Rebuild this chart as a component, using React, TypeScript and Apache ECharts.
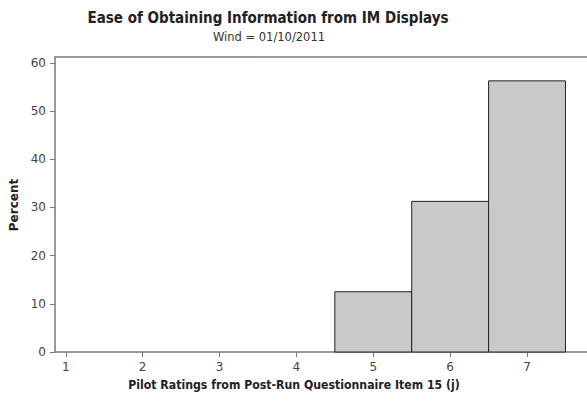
import React, { useEffect, useRef } from "react";
import * as echarts from "echarts";

const ratings = [1, 2, 3, 4, 5, 6, 7];
const percents = [0, 0, 0, 0, 12.5, 31.25, 56.25];
const yTicks = [0, 10, 20, 30, 40, 50, 60];
const titleText = "Ease of Obtaining Information from IM Displays";
const subtitleText = "Wind = 01/10/2011";
const xName = "Pilot Ratings from Post-Run Questionnaire Item 15 (j)";
const yName = "Percent";

export default function App() {
  const ref = useRef<HTMLDivElement>(null);
  useEffect(() => {
    if (!ref.current) return;
    const chart = echarts.init(ref.current, null, { renderer: "svg" });
    const axisColor = "#7a7a7a";
    const labelColor = "#444";
    const font = "'DejaVu Sans', Verdana, sans-serif";
    const boldFont = "'DejaVu Sans Condensed', 'DejaVu Sans', sans-serif";
    chart.setOption({
      animation: false,
      grid: { left: 55, right: 0, top: 57, bottom: 50 },
      xAxis: [
        {
          type: "value",
          min: 0.86,
          max: 7.78,
          splitLine: { show: false },
          axisLine: { show: true, lineStyle: { color: axisColor, width: 1.5 } },
          axisTick: { show: true, length: 5, customValues: ratings, lineStyle: { color: axisColor } },
          axisLabel: { customValues: ratings, margin: 9, color: labelColor, fontSize: 12, fontFamily: font },
        },
        {
          type: "value",
          position: "top",
          min: 0.86,
          max: 7.78,
          splitLine: { show: false },
          axisLine: { show: true, lineStyle: { color: axisColor, width: 1.5 } },
          axisTick: { show: false },
          axisLabel: { show: false },
        },
      ],
      yAxis: {
        type: "value",
        min: 0,
        max: 61.2,
        splitLine: { show: false },
        axisLine: { show: true, lineStyle: { color: axisColor, width: 1.5 } },
        axisTick: { show: true, length: 5, customValues: yTicks, lineStyle: { color: axisColor } },
        axisLabel: { customValues: yTicks, margin: 9, color: labelColor, fontSize: 12, fontFamily: font },
      },
      series: [
        {
          type: "custom",
          xAxisIndex: 0,
          data: ratings.map((r, i) => [r, percents[i]]),
          renderItem: (params: any, api: any) => {
            const x = api.value(0);
            const y = api.value(1);
            if (!y) return null;
            const tl = api.coord([x - 0.5, y]);
            const br = api.coord([x + 0.5, 0]);
            return {
              type: "rect",
              shape: { x: tl[0], y: tl[1], width: br[0] - tl[0], height: br[1] - tl[1] },
              style: { fill: "#c8c9cb", stroke: "#222", lineWidth: 1 },
            };
          },
        },
      ],
      graphic: [
        {
          type: "text",
          x: 268,
          y: 18,
          style: {
            text: titleText,
            textAlign: "center",
            textVerticalAlign: "middle",
            fontFamily: boldFont,
            fontWeight: "bold",
            fontSize: 15,
            fill: "#222",
          },
        },
        {
          type: "text",
          x: 269,
          y: 37,
          style: {
            text: subtitleText,
            textAlign: "center",
            textVerticalAlign: "middle",
            fontFamily: font,
            fontSize: 11.5,
            fill: "#333",
          },
        },
        {
          type: "text",
          x: 294,
          y: 385,
          style: {
            text: xName,
            textAlign: "center",
            textVerticalAlign: "middle",
            fontFamily: boldFont,
            fontWeight: "bold",
            fontSize: 12.2,
            fill: "#222",
          },
        },
        {
          type: "text",
          x: 14,
          y: 205,
          rotation: Math.PI / 2,
          style: {
            text: yName,
            textAlign: "center",
            textVerticalAlign: "middle",
            fontFamily: font,
            fontWeight: "bold",
            fontSize: 12,
            fill: "#222",
          },
        },
      ],
    });
    return () => chart.dispose();
  }, []);
  return (
    <div
      ref={ref}
      style={{ position: "absolute", left: 0, top: 0, width: 587, height: 402, background: "#fff" }}
    />
  );
}
